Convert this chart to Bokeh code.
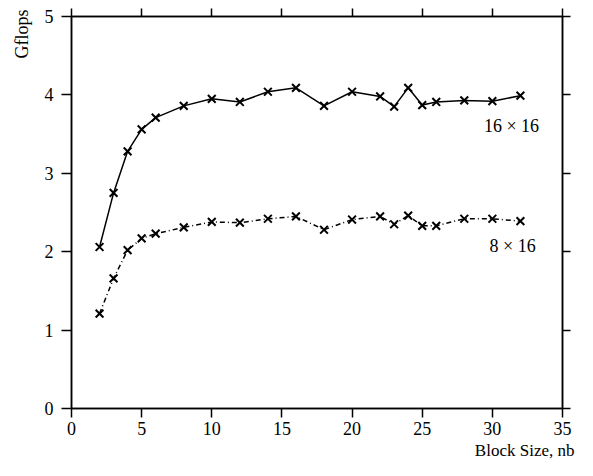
from math import pi
from bokeh.plotting import figure
from bokeh.models import Range1d, LinearAxis, FixedTicker, Label, Title
from bokeh.embed import file_html
from bokeh.resources import INLINE

# ---- data ----
block_size = [2, 3, 4, 5, 6, 8, 10, 12, 14, 16, 18, 20, 22, 23, 24, 25, 26, 28, 30, 32]
gflops_16x16 = [2.06, 2.75, 3.28, 3.56, 3.71, 3.86, 3.95, 3.91, 4.04, 4.09,
                3.86, 4.04, 3.98, 3.85, 4.09, 3.87, 3.91, 3.93, 3.92, 3.99]
gflops_8x16 = [1.21, 1.66, 2.02, 2.17, 2.23, 2.31, 2.38, 2.37, 2.42, 2.45,
               2.28, 2.41, 2.45, 2.35, 2.46, 2.33, 2.33, 2.42, 2.42, 2.39]
x_ticks = [0, 5, 10, 15, 20, 25, 30, 35]
y_ticks = [0, 1, 2, 3, 4, 5]
series_labels = ["16 \u00d7 16", "8 \u00d7 16"]
x_title = "Block Size, nb"
y_title = "Gflops"

FONT = "Liberation Serif"

p = figure(width=577, height=460, output_backend="svg", toolbar_location=None,
           x_range=Range1d(0, 35), y_range=Range1d(0, 5),
           min_border_left=71, min_border_right=15, min_border_top=16,
           min_border_bottom=50)
p.grid.visible = False
p.outline_line_color = "black"
p.outline_line_width = 1.5
p.background_fill_color = "white"
p.border_fill_color = "white"


def style_axis(ax, ticks, show_labels, tick_out, standoff=6):
    ax.ticker = FixedTicker(ticks=ticks)
    ax.minor_tick_line_color = None
    ax.major_tick_out = tick_out
    ax.major_tick_in = 0
    ax.major_tick_line_color = "black"
    ax.major_tick_line_width = 1.5
    ax.axis_line_color = "black"
    ax.axis_line_width = 1.5
    ax.major_label_text_font = FONT
    ax.major_label_text_color = "black"
    if show_labels:
        ax.major_label_text_font_size = "18px"
        ax.major_label_standoff = standoff
    else:
        ax.major_label_text_font_size = "0px"
        ax.major_label_text_color = None
        ax.major_label_standoff = 0


xa = p.xaxis[0]
style_axis(xa, x_ticks, True, 9, standoff=4)

ya = p.yaxis[0]
style_axis(ya, y_ticks, True, 10, standoff=8)

top_axis = LinearAxis()
style_axis(top_axis, x_ticks, False, 8)
p.add_layout(top_axis, "above")

right_axis = LinearAxis()
style_axis(right_axis, y_ticks, False, 8)
p.add_layout(right_axis, "right")

# axis titles placed as side titles so they can sit at the ends
p.add_layout(Title(text=x_title, align="right", offset=-12, standoff=2,
                   text_font=FONT, text_font_size="17px", text_font_style="normal",
                   text_color="black"), "below")
p.add_layout(Title(text=y_title, align="right", offset=-7, standoff=19,
                   text_font=FONT, text_font_size="18px", text_font_style="normal",
                   text_color="black"), "left")

# ---- series ----
p.line(block_size, gflops_16x16, line_color="black", line_width=1.5)
p.scatter(block_size, gflops_16x16, marker="x", size=11, line_color="black", line_width=2)

p.line(block_size, gflops_8x16, line_color="black", line_width=1.5, line_dash="5 3 1 3")
p.scatter(block_size, gflops_8x16, marker="x", size=11, line_color="black", line_width=2)

# ---- curve annotations ----
p.add_layout(Label(x=29.4, y=3.6, text=series_labels[0], text_font=FONT,
                   text_font_size="18px", text_baseline="middle", text_align="left",
                   text_color="black"))
p.add_layout(Label(x=29.8, y=2.07, text=series_labels[1], text_font=FONT,
                   text_font_size="18px", text_baseline="middle", text_align="left",
                   text_color="black"))

open("out.html", "w").write(file_html(p, INLINE))
